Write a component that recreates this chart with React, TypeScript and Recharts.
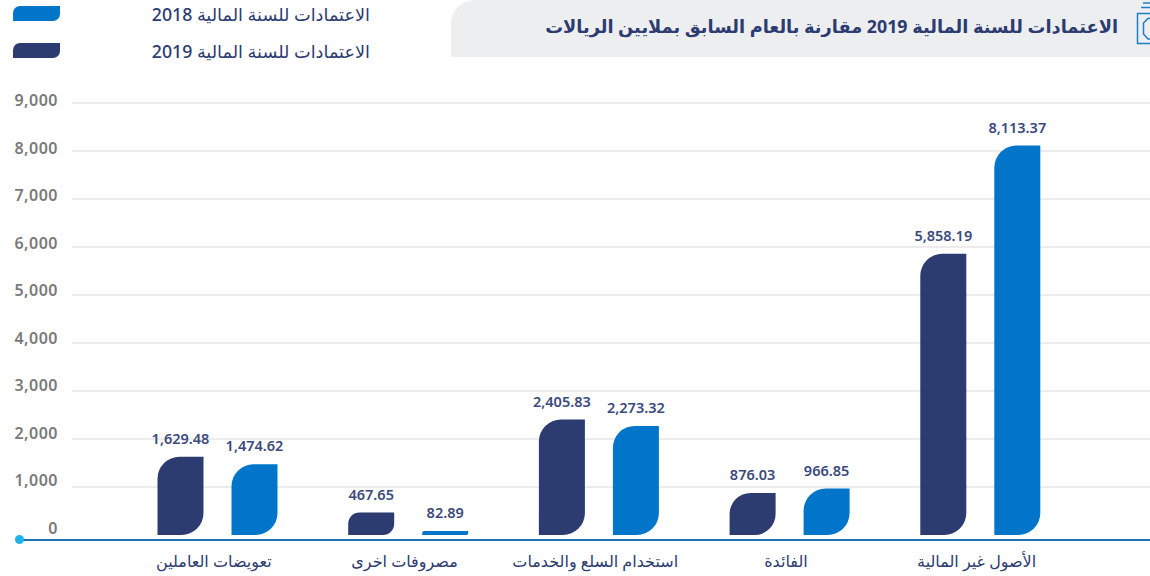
import { Bar, BarChart, CartesianGrid, LabelList, Legend, XAxis, YAxis } from "recharts"

const categories = ["تعويضات العاملين", "مصروفات اخرى", "استخدام السلع والخدمات", "الفائدة", "الأصول غير المالية"]
const values2019 = [1629.48, 467.65, 2405.83, 876.03, 5858.19]
const values2018 = [1474.62, 82.89, 2273.32, 966.85, 8113.37]
const yTicks = [0, 1000, 2000, 3000, 4000, 5000, 6000, 7000, 8000, 9000]

const title = "الاعتمادات للسنة المالية 2019 مقارنة بالعام السابق بملايين الريالات"
const name2019 = "الاعتمادات للسنة المالية 2019"
const name2018 = "الاعتمادات للسنة المالية 2018"

const data = categories.map((name, i) => ({ name, v2019: values2019[i], v2018: values2018[i] }))

const NAVY = "#2c3b70"
const BLUE = "#0075c9"
const FONT = "'Noto Sans', 'DejaVu Sans', sans-serif"

const fmt = (v: number) =>
  v.toLocaleString("en-US", { minimumFractionDigits: 2, maximumFractionDigits: 2 })

function YTick({ y, payload }: any) {
  // labels in the source sit slightly above their gridlines
  const dy = -2 - 4 * (1 - payload.value / 9000)
  return (
    <text x={58} y={y + dy} dy={5} textAnchor="end" fontSize={16} fontWeight={600} letterSpacing={0.5} fill="#7a7a7a">
      {payload.value.toLocaleString("en-US")}
    </text>
  )
}

function LegendContent({ payload }: any) {
  const items = payload ?? []
  return (
    <div style={{ position: "relative", width: 372, height: 60 }}>
      {items.map((item: any, i: number) => (
        <div key={item.value} style={{ position: "absolute", left: 0, right: 0, top: i * 36.5 }}>
          <div
            style={{
              position: "absolute",
              left: 13,
              top: 6,
              width: 47,
              height: 15,
              background: item.color,
              borderRadius: "7px 0 7px 0",
            }}
          />
          <div
            style={{
              position: "absolute",
              right: 2,
              top: 1,
              fontSize: 17.7,
              fontWeight: 500,
              color: NAVY,
              whiteSpace: "nowrap",
              lineHeight: "26px",
            }}
          >
            {item.value}
          </div>
        </div>
      ))}
    </div>
  )
}

export default function App() {
  return (
    <div style={{ position: "absolute", left: 0, top: 0, width: 1150, height: 576, overflow: "hidden", fontFamily: FONT }}>
      <div
        style={{
          position: "absolute",
          left: 451,
          top: 0,
          width: 699,
          height: 57,
          background: "#edeef0",
          borderTopLeftRadius: 24,
        }}
      />
      <div
        style={{
          position: "absolute",
          right: 32,
          top: 12,
          fontSize: 17.8,
          fontWeight: 700,
          color: NAVY,
          whiteSpace: "nowrap",
          lineHeight: "28px",
        }}
      >
        {title}
      </div>
      <svg style={{ position: "absolute", left: 1130, top: 0 }} width={20} height={50}>
        <rect x={7.5} y={13.5} width={20} height={30} fill="none" stroke="#1f7fc4" strokeWidth={1.5} />
        <polygon points="13.5,23 18,18.5 30,18.5 30,39 18,39 13.5,34" fill="none" stroke="#1f7fc4" strokeWidth={1.5} />
        <line x1={11} y1={7.5} x2={20} y2={7.5} stroke="#1f7fc4" strokeWidth={1.5} />
        <line x1={13} y1={3} x2={20} y2={3} stroke="#1f7fc4" strokeWidth={1.5} />
      </svg>

      <BarChart
        width={1150}
        height={576}
        data={data}
        barSize={46}
        barGap={28}
        margin={{ top: 43, right: 0, bottom: 0, left: 0 }}
        style={{ position: "absolute", left: 0, top: 0 }}
      >
        <CartesianGrid vertical={false} stroke="#d9d9d9" horizontalValues={yTicks.slice(1)} />
        <XAxis
          dataKey="name"
          height={41}
          axisLine={false}
          tickLine={false}
          interval={0}
          padding={{ left: 50.5, right: 74 }}
          tick={{ fontSize: 16, fontWeight: 500, fill: NAVY, fontFamily: FONT, dx: -4 }}
          tickMargin={15}
        />
        <YAxis width={72} domain={[0, 9000]} ticks={yTicks} axisLine={false} tickLine={false} tick={<YTick />} interval={0} />
        <Legend
          verticalAlign="top"
          align="left"
          content={<LegendContent />}
          wrapperStyle={{ position: "absolute", left: 0, top: 0, width: 372 }}
        />
        <Bar dataKey="v2019" name={name2019} fill={NAVY} radius={[22, 0, 22, 0]} isAnimationActive={false}>
          <LabelList dataKey="v2019" position="top" offset={13} formatter={fmt} fontSize={14.5} fontWeight={600} fill="#3b4a7d" />
        </Bar>
        <Bar dataKey="v2018" name={name2018} fill={BLUE} radius={[22, 0, 22, 0]} isAnimationActive={false}>
          <LabelList dataKey="v2018" position="top" offset={13} formatter={fmt} fontSize={14.5} fontWeight={600} fill="#3b4a7d" />
        </Bar>
      </BarChart>

      <svg style={{ position: "absolute", left: 0, top: 530, pointerEvents: "none" }} width={1150} height={20}>
        <line x1={19} y1={10} x2={1150} y2={10} stroke="#1f6db3" strokeWidth={2} />
        <circle cx={19.5} cy={9.5} r={4.5} fill="#1fb3ea" />
      </svg>
    </div>
  )
}
